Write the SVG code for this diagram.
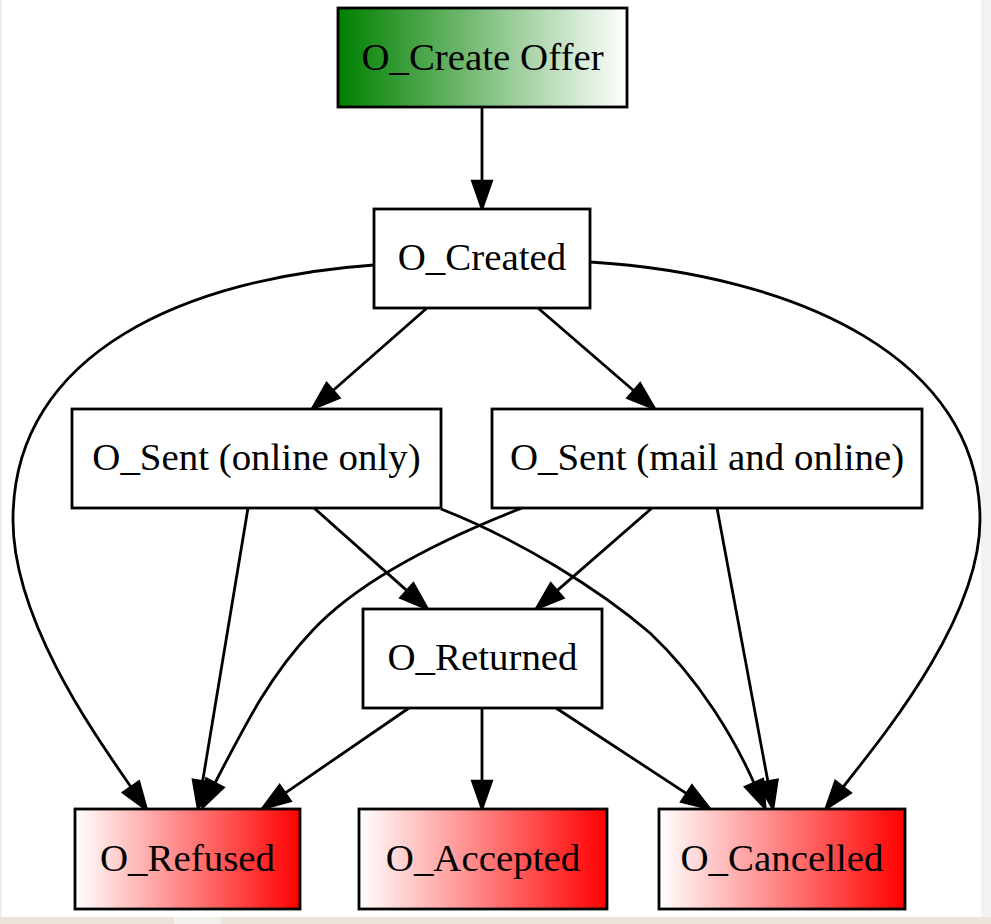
<svg xmlns="http://www.w3.org/2000/svg" width="991" height="924" viewBox="0 0 991 924">
<defs>
<linearGradient id="gGreen" x1="0" y1="0" x2="1" y2="0"><stop offset="0" stop-color="#008000"/><stop offset="1" stop-color="#ffffff"/></linearGradient>
<linearGradient id="gRed" x1="0" y1="0" x2="1" y2="0"><stop offset="0" stop-color="#ffffff"/><stop offset="1" stop-color="#ff0000"/></linearGradient>
<marker id="ah" markerUnits="userSpaceOnUse" markerWidth="34" markerHeight="26" viewBox="-2 -13 34 26" refX="0" refY="0" orient="auto"><path d="M0,-9.7 L28,0 L0,9.7 Z" fill="#000" stroke="#000" stroke-width="2.5" stroke-linejoin="miter"/></marker>
<style>
.box{stroke:#000;stroke-width:2.8;}
.plain{fill:#fff;}
.lbl{font-family:"Liberation Serif","Times New Roman",serif;font-size:38.9px;fill:#000;text-anchor:middle;}
.e{fill:none;stroke:#000;stroke-width:2.8;marker-end:url(#ah);}
</style>
</defs>
<rect x="0" y="0" width="991" height="924" fill="#ffffff"/>
<rect x="0" y="0" width="2" height="924" fill="#eeeeee"/>
<rect x="981" y="0" width="10" height="924" fill="#f2f2f2"/>
<rect x="0" y="917" width="991" height="7" fill="#ece4db"/>
<rect x="174" y="917" width="47" height="7" fill="#f4f1ed"/>

<g id="connectors">
<path class="e" d="M482,107 L482,181"/>
<path class="e" d="M427,308 L333,390.5"/>
<path class="e" d="M538,308 L633.8,390.7"/>
<path class="e" d="M374,265 C190,278 13,350 13,520 C13,620 95,735 131,787"/>
<path class="e" d="M590,262 C800,275 980,360 980,520 C980,620 880,740 843,787"/>
<path class="e" d="M248,508 L202.6,781.4"/>
<path class="e" d="M314,508 L406.9,590.6"/>
<path class="e" d="M441,509 C520,540 600,590 650,633 C700,680 735,740 754,783"/>
<path class="e" d="M522,508 C440,540 360,580 313,630 C270,675 245,725 215,783"/>
<path class="e" d="M652,508 L557.1,590.6"/>
<path class="e" d="M717,508 L767.9,781.5"/>
<path class="e" d="M409,708 L285.1,793.1"/>
<path class="e" d="M482,708 L482,781"/>
<path class="e" d="M556,708 L686.6,793.6"/>
</g>

<g id="n_create_offer"><rect class="box" x="338" y="8" width="289" height="99" fill="url(#gGreen)"/><text class="lbl" x="482.5" y="70">O_Create Offer</text></g>
<g id="n_created"><rect class="box plain" x="374" y="209" width="216" height="99"/><text class="lbl" x="482" y="270">O_Created</text></g>
<g id="n_sent_online"><rect class="box plain" x="72" y="409" width="369" height="99"/><text class="lbl" x="256.5" y="470">O_Sent (online only)</text></g>
<g id="n_sent_mail"><rect class="box plain" x="492" y="409" width="430" height="99"/><text class="lbl" x="707" y="470">O_Sent (mail and online)</text></g>
<g id="n_returned"><rect class="box plain" x="363" y="609" width="239" height="99"/><text class="lbl" x="482.5" y="670">O_Returned</text></g>
<g id="n_refused"><rect class="box" x="75" y="809" width="225" height="100" fill="url(#gRed)"/><text class="lbl" x="187.5" y="871">O_Refused</text></g>
<g id="n_accepted"><rect class="box" x="359" y="809" width="248" height="100" fill="url(#gRed)"/><text class="lbl" x="483" y="871">O_Accepted</text></g>
<g id="n_cancelled"><rect class="box" x="659" y="809" width="246" height="100" fill="url(#gRed)"/><text class="lbl" x="782" y="871">O_Cancelled</text></g>
</svg>
